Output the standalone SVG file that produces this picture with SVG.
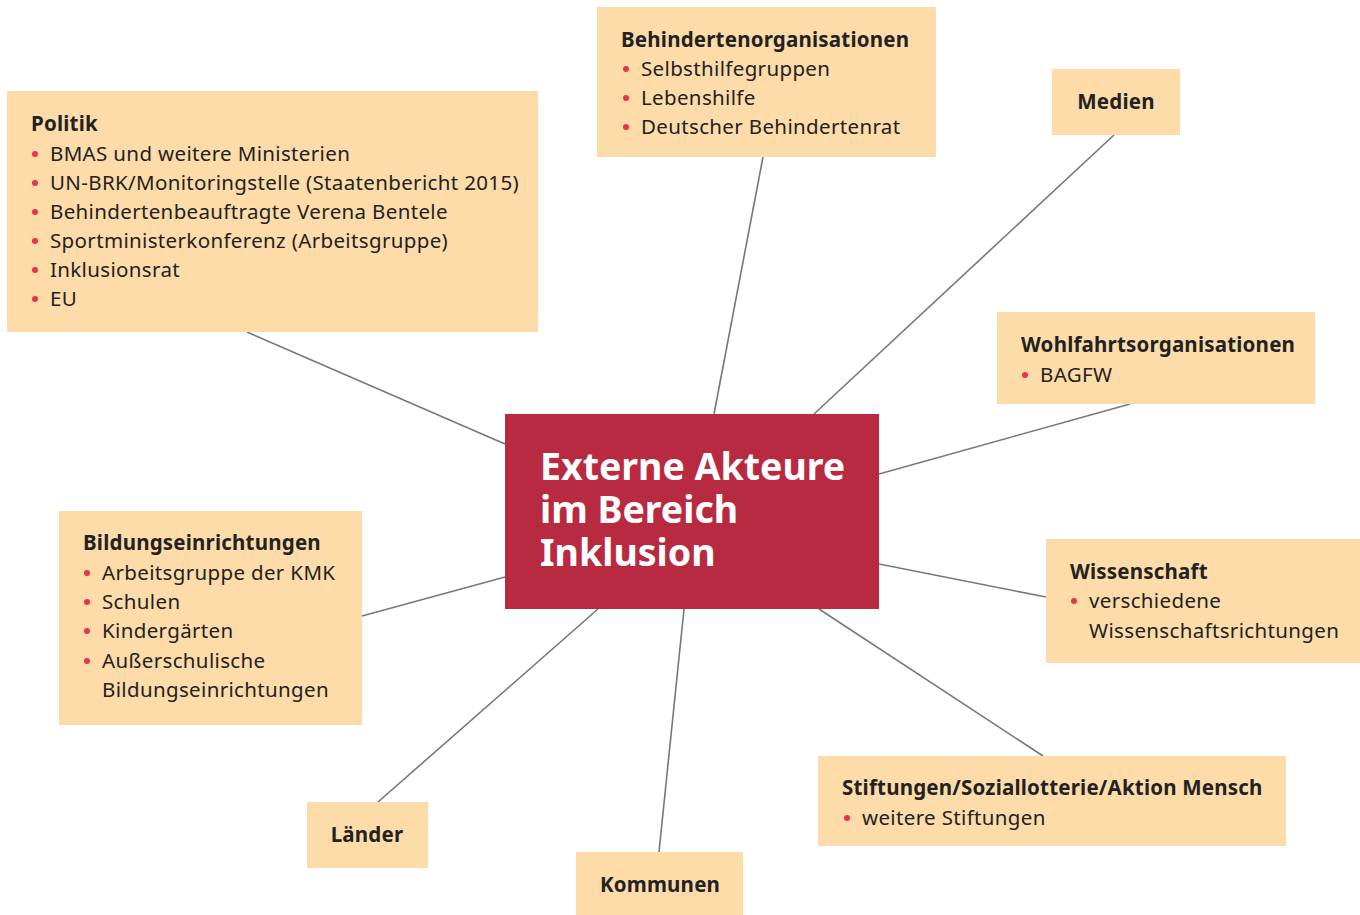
<svg xmlns="http://www.w3.org/2000/svg" width="1360" height="915" viewBox="0 0 1360 915">
<style>
.box{fill:#fddcaa}
.t{font-family:"Noto Sans","Open Sans",sans-serif;font-size:20.5px;letter-spacing:0.35px;fill:#222}
.h{font-weight:bold;letter-spacing:0.2px}
.b{fill:#e8334a}
.c{stroke:#777;stroke-width:1.6;fill:none}
.ct{font-family:"Noto Sans","Open Sans",sans-serif;font-size:37.5px;font-weight:bold;fill:#fff}
</style>
<defs><circle id="dot" r="3" class="b"/></defs>
<rect width="1360" height="915" fill="#fff"/>
<g id="connectors">
<line class="c" x1="247" y1="332" x2="505" y2="444"/>
<line class="c" x1="763" y1="157" x2="714" y2="414"/>
<line class="c" x1="1114" y1="135" x2="814" y2="414"/>
<line class="c" x1="1130" y1="404" x2="879" y2="474"/>
<line class="c" x1="1046" y1="597" x2="879" y2="564"/>
<line class="c" x1="1043" y1="756" x2="819" y2="609"/>
<line class="c" x1="659" y1="852" x2="684" y2="609"/>
<line class="c" x1="378" y1="802" x2="598" y2="609"/>
<line class="c" x1="362" y1="616" x2="505" y2="577"/>
</g>
<g id="center">
<rect x="505" y="414" width="374" height="195" fill="#b82a40"/>
<text class="ct" x="540" y="480">Externe Akteure<tspan x="540" dy="43">im Bereich</tspan><tspan x="540" dy="43">Inklusion</tspan></text>
</g>
<g id="politik">
<rect class="box" x="7" y="91" width="531" height="241"/>
<text class="t h" x="31" y="131">Politik</text>
<use href="#dot" x="35" y="154"/><text class="t" x="50" y="161">BMAS und weitere Ministerien</text>
<use href="#dot" x="35" y="183"/><text class="t" x="50" y="190">UN-BRK/Monitoringstelle (Staatenbericht 2015)</text>
<use href="#dot" x="35" y="212"/><text class="t" x="50" y="219">Behindertenbeauftragte Verena Bentele</text>
<use href="#dot" x="35" y="241"/><text class="t" x="50" y="248">Sportministerkonferenz (Arbeitsgruppe)</text>
<use href="#dot" x="35" y="270"/><text class="t" x="50" y="277">Inklusionsrat</text>
<use href="#dot" x="35" y="299"/><text class="t" x="50" y="306">EU</text>
</g>
<g id="behindertenorganisationen">
<rect class="box" x="597" y="7" width="339" height="150"/>
<text class="t h" x="621" y="47">Behindertenorganisationen</text>
<use href="#dot" x="626" y="69"/><text class="t" x="641" y="76">Selbsthilfegruppen</text>
<use href="#dot" x="626" y="98"/><text class="t" x="641" y="105">Lebenshilfe</text>
<use href="#dot" x="626" y="127"/><text class="t" x="641" y="134">Deutscher Behindertenrat</text>
</g>
<g id="medien">
<rect class="box" x="1052" y="69" width="128" height="66"/>
<text class="t h" x="1116" y="109" text-anchor="middle">Medien</text>
</g>
<g id="wohlfahrt">
<rect class="box" x="997" y="312" width="318" height="92"/>
<text class="t h" x="1021" y="352">Wohlfahrtsorganisationen</text>
<use href="#dot" x="1025" y="375"/><text class="t" x="1040" y="382">BAGFW</text>
</g>
<g id="wissenschaft">
<rect class="box" x="1046" y="539" width="314" height="124"/>
<text class="t h" x="1070" y="579">Wissenschaft</text>
<use href="#dot" x="1074" y="601"/><text class="t" x="1089" y="608">verschiedene</text>
<text class="t" x="1089" y="638">Wissenschaftsrichtungen</text>
</g>
<g id="stiftungen">
<rect class="box" x="818" y="756" width="468" height="90"/>
<text class="t h" x="842" y="795">Stiftungen/Soziallotterie/Aktion Mensch</text>
<use href="#dot" x="847" y="818"/><text class="t" x="862" y="825">weitere Stiftungen</text>
</g>
<g id="kommunen">
<rect class="box" x="576" y="852" width="167" height="63"/>
<text class="t h" x="660" y="892" text-anchor="middle">Kommunen</text>
</g>
<g id="laender">
<rect class="box" x="307" y="802" width="121" height="66"/>
<text class="t h" x="367" y="842" text-anchor="middle">Länder</text>
</g>
<g id="bildung">
<rect class="box" x="59" y="511" width="303" height="214"/>
<text class="t h" x="83" y="550">Bildungseinrichtungen</text>
<use href="#dot" x="87" y="573"/><text class="t" x="102" y="580">Arbeitsgruppe der KMK</text>
<use href="#dot" x="87" y="602"/><text class="t" x="102" y="609">Schulen</text>
<use href="#dot" x="87" y="631"/><text class="t" x="102" y="638">Kindergärten</text>
<use href="#dot" x="87" y="661"/><text class="t" x="102" y="668">Außerschulische</text>
<text class="t" x="102" y="697">Bildungseinrichtungen</text>
</g>
</svg>
